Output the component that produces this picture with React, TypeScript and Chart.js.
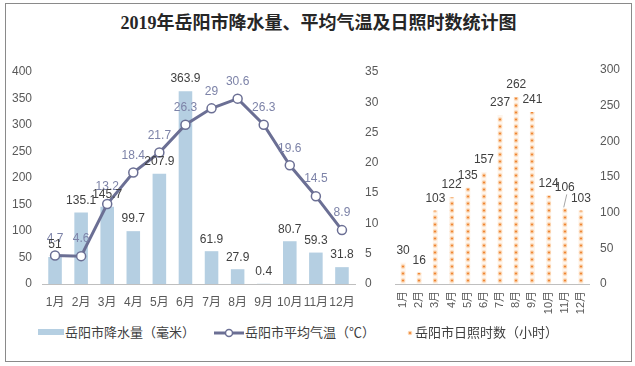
import React, { useEffect, useRef } from "react";
import { Chart, registerables } from "chart.js";

Chart.register(...registerables);

// ---------- data ----------
const MONTHS = ["1月", "2月", "3月", "4月", "5月", "6月", "7月", "8月", "9月", "10月", "11月", "12月"];
const PRECIP = [51, 135.1, 145.7, 99.7, 207.9, 363.9, 61.9, 27.9, 0.4, 80.7, 59.3, 31.8];
const TEMP = [4.7, 4.6, 13.2, 18.4, 21.7, 26.3, 29, 30.6, 26.3, 19.6, 14.5, 8.9];
const SUN = [30, 16, 103, 122, 135, 157, 237, 262, 241, 124, 106, 103];

const PRECIP_AXIS = { min: 0, max: 400, step: 50 };
const TEMP_AXIS = { min: 0, max: 35, step: 5 };
const SUN_AXIS = { min: 0, max: 300, step: 50 };

const TITLE = "2019年岳阳市降水量、平均气温及日照时数统计图";
const LEGEND_PRECIP = "岳阳市降水量（毫米）";
const LEGEND_TEMP = "岳阳市平均气温（℃）";
const LEGEND_SUN = "岳阳市日照时数（小时）";

// label lift (px) for the moved sunshine label with a leader line
const SUN_LABEL_LIFT: Record<number, number> = { 10: 9 };

// ---------- styles ----------
const FONT = "'Liberation Sans', 'Noto Sans CJK SC', sans-serif";
const BAR_BLUE = "#B5CFE2";
const LINE_COLOR = "#6B6F94";
const TEMP_LABEL = "#7D83A8";
const TEXT = "#404040";
const TICK = "#595959";
const AXIS_LINE = "#BFBFBF";

const valueLabels = {
  id: "valueLabels",
  afterDatasetsDraw(chart: any) {
    const ctx = chart.ctx;
    chart.data.datasets.forEach((ds: any, i: number) => {
      const cfg = ds.valueLabel;
      if (!cfg) return;
      const meta = chart.getDatasetMeta(i);
      ctx.save();
      ctx.font = cfg.font;
      ctx.fillStyle = cfg.color;
      ctx.textAlign = "center";
      ctx.textBaseline = "middle";
      meta.data.forEach((el: any, j: number) => {
        const lift = (cfg.lift && cfg.lift[j]) || 0;
        const y = el.y - cfg.offset - lift;
        if (lift) {
          ctx.save();
          ctx.strokeStyle = "#A6A6A6";
          ctx.lineWidth = 1;
          ctx.beginPath();
          ctx.moveTo(el.x - 1, el.y - 1);
          ctx.lineTo(el.x + 2, y + 7);
          ctx.stroke();
          ctx.restore();
        }
        ctx.fillText(String(ds.data[j]), el.x + (cfg.dx || 0), y);
      });
      ctx.restore();
    });
  },
};

function dotPattern(chart: any, index: number): any {
  const scales = chart && chart.scales;
  if (!scales || !scales.x || !scales.y) return "#F4A460";
  const tile = document.createElement("canvas");
  tile.width = 16;
  tile.height = 7;
  const t = tile.getContext("2d")!;
  t.fillStyle = "rgba(253, 236, 220, 0.55)";
  t.fillRect(0, 0, 16, 7);
  t.fillStyle = "#FBD3AE";
  t.beginPath();
  t.arc(8, 3.5, 2.3, 0, Math.PI * 2);
  t.fill();
  t.fillStyle = "#EE8634";
  t.beginPath();
  t.arc(8, 3.5, 1.1, 0, Math.PI * 2);
  t.fill();
  const p = chart.ctx.createPattern(tile, "repeat");
  const x = scales.x.getPixelForValue(index);
  const base = scales.y.getPixelForValue(0);
  p.setTransform(new DOMMatrix().translate(Math.round(x) - 8, base));
  return p;
}

function LeftChart() {
  const ref = useRef<HTMLCanvasElement>(null);
  useEffect(() => {
    const chart = new Chart(ref.current!, {
      type: "bar",
      data: {
        labels: MONTHS,
        datasets: [
          {
            type: "line",
            label: LEGEND_TEMP,
            data: TEMP,
            yAxisID: "y1",
            borderColor: LINE_COLOR,
            borderWidth: 3,
            pointRadius: 4.5,
            pointBackgroundColor: "#FFFFFF",
            pointBorderColor: LINE_COLOR,
            pointBorderWidth: 1.5,
            tension: 0,
            order: 0,
            valueLabel: { font: `12px ${FONT}`, color: TEMP_LABEL, offset: 17 },
          } as any,
          {
            type: "bar",
            label: LEGEND_PRECIP,
            data: PRECIP,
            yAxisID: "y",
            backgroundColor: BAR_BLUE,
            barPercentage: 0.52,
            categoryPercentage: 1,
            order: 1,
            valueLabel: { font: `12px ${FONT}`, color: TEXT, offset: 12 },
          } as any,
        ],
      },
      options: {
        responsive: false,
        animation: false,
        devicePixelRatio: 1,
        layout: { padding: { top: 72, left: 0, right: 0, bottom: 0 } },
        plugins: { legend: { display: false }, tooltip: { enabled: false }, title: { display: false } },
        scales: {
          x: {
            type: "category",
            offset: true,
            grid: { display: false, drawTicks: false },
            border: { display: true, color: AXIS_LINE },
            ticks: { font: { family: FONT, size: 12 }, color: TICK, padding: 11, autoSkip: false, maxRotation: 0, minRotation: 0 },
            afterFit: (s: any) => { s.height = 36; },
          },
          y: {
            position: "left",
            min: PRECIP_AXIS.min,
            max: PRECIP_AXIS.max,
            grid: { display: false, drawTicks: false },
            border: { display: false },
            ticks: { stepSize: PRECIP_AXIS.step, font: { family: FONT, size: 12 }, color: TICK, padding: 10 },
            afterFit: (s: any) => { s.width = 42; },
          },
          y1: {
            position: "right",
            min: TEMP_AXIS.min,
            max: TEMP_AXIS.max,
            grid: { display: false, drawTicks: false },
            border: { display: false },
            ticks: { stepSize: TEMP_AXIS.step, font: { family: FONT, size: 12 }, color: TICK, padding: 10 },
            afterFit: (s: any) => { s.width = 35; },
          },
        },
      } as any,
      plugins: [valueLabels],
    });
    return () => chart.destroy();
  }, []);
  return (
    <canvas
      ref={ref}
      width={390}
      height={320}
      style={{ position: "absolute", left: 0, top: 0, width: 390, height: 320 }}
    />
  );
}

function RightChart() {
  const ref = useRef<HTMLCanvasElement>(null);
  useEffect(() => {
    const chart = new Chart(ref.current!, {
      type: "bar",
      data: {
        labels: MONTHS,
        datasets: [
          {
            label: LEGEND_SUN,
            data: SUN,
            backgroundColor: (c: any) => dotPattern(c.chart, c.dataIndex),
            barPercentage: 0.32,
            categoryPercentage: 1,
            valueLabel: { font: `12px ${FONT}`, color: TEXT, offset: 12, lift: SUN_LABEL_LIFT },
          } as any,
        ],
      },
      options: {
        responsive: false,
        animation: false,
        devicePixelRatio: 1,
        layout: { padding: { top: 70, left: 15, right: 0, bottom: 0 } },
        plugins: { legend: { display: false }, tooltip: { enabled: false } },
        scales: {
          x: {
            type: "category",
            offset: true,
            grid: { display: false, drawTicks: false },
            border: { display: true, color: AXIS_LINE },
            ticks: { font: { family: FONT, size: 11 }, color: TICK, padding: 7, autoSkip: false, maxRotation: 90, minRotation: 90 },
            afterFit: (s: any) => { s.height = 36; },
          },
          y: {
            position: "right",
            min: SUN_AXIS.min,
            max: SUN_AXIS.max,
            grid: { display: false, drawTicks: false },
            border: { display: false },
            ticks: { stepSize: SUN_AXIS.step, font: { family: FONT, size: 12 }, color: TICK, padding: 11 },
            afterFit: (s: any) => { s.width = 41; },
          },
        },
      } as any,
      plugins: [valueLabels],
    });
    return () => chart.destroy();
  }, []);
  return (
    <canvas
      ref={ref}
      width={250}
      height={320}
      style={{ position: "absolute", left: 380, top: 0, width: 250, height: 320 }}
    />
  );
}

const legendText: React.CSSProperties = {
  position: "absolute",
  top: 324,
  fontFamily: FONT,
  fontSize: 13,
  lineHeight: "18px",
  color: TEXT,
  whiteSpace: "nowrap",
};

export default function App() {
  return (
    <div style={{ position: "absolute", left: 0, top: 0, width: 635, height: 366, background: "#FFFFFF", overflow: "hidden" }}>
      <div
        style={{
          position: "absolute",
          left: 5,
          top: 3,
          width: 625,
          height: 357,
          border: "1px solid #8A8A8A",
          boxSizing: "content-box",
        }}
      />
      <div
        style={{
          position: "absolute",
          left: 5,
          top: 11,
          width: 627,
          textAlign: "center",
          fontFamily: "'Liberation Serif', 'Noto Sans CJK SC', serif",
          fontWeight: 700,
          fontSize: 18,
          lineHeight: "24px",
          color: "#262626",
        }}
      >
        {TITLE}
      </div>
      <LeftChart />
      <RightChart />
      {/* legend */}
      <div style={{ position: "absolute", left: 38, top: 329, width: 26, height: 6, background: BAR_BLUE }} />
      <div style={{ ...legendText, left: 65 }}>{LEGEND_PRECIP}</div>
      <svg style={{ position: "absolute", left: 214, top: 327 }} width={30} height={12}>
        <line x1={0} y1={6} x2={30} y2={6} stroke={LINE_COLOR} strokeWidth={3} />
        <circle cx={15} cy={6} r={3.5} fill="#FFFFFF" stroke={LINE_COLOR} strokeWidth={1.5} />
      </svg>
      <div style={{ ...legendText, left: 245 }}>{LEGEND_TEMP}</div>
      <svg style={{ position: "absolute", left: 406, top: 329 }} width={8} height={8}>
        <circle cx={4} cy={4} r={2.3} fill="#FBD3AE" />
        <circle cx={4} cy={4} r={1.1} fill="#EE8634" />
      </svg>
      <div style={{ ...legendText, left: 415 }}>{LEGEND_SUN}</div>
    </div>
  );
}
